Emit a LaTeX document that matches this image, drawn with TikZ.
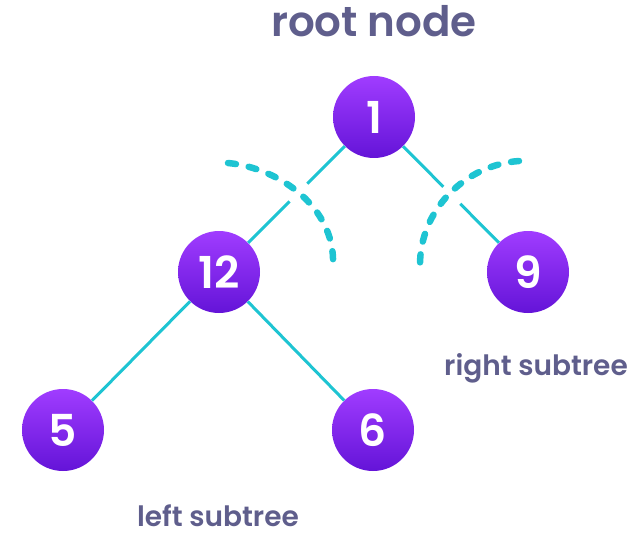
\documentclass[tikz,border=0pt]{standalone}
\usepackage{fontspec}
\setmainfont{Poppins}[BoldFont={* SemiBold}]
\usetikzlibrary{calc}
\definecolor{ptop}{HTML}{A03CFF}
\definecolor{pbot}{HTML}{6414D8}
\definecolor{edgec}{HTML}{1EC4D2}
\definecolor{txtc}{HTML}{5F5E8C}
\tikzset{
  tnode/.style={circle, minimum size=82pt, inner sep=0pt, top color=ptop, bottom color=pbot, draw=none, text=white, font=\fontsize{44pt}{46pt}\selectfont\bfseries},
  edge/.style={draw=edgec, line width=3pt},
  arcd/.style={draw=edgec, line width=6.5pt, line cap=round, dash pattern=on 8pt off 13pt},
  lbl/.style={text=txtc, anchor=base, inner sep=0pt, font=\fontsize{28pt}{32pt}\selectfont\bfseries},
}
\begin{document}
\begin{tikzpicture}[x=1pt,y=-1pt]
\useasboundingbox (0,0) rectangle (633,535);
\node[lbl, font=\fontsize{42pt}{46pt}\selectfont\bfseries] (title) at (374,37) {root node};
\node[tnode] (n1) at (374,117) {1};
\node[tnode] (n12) at (219,272) {12};
\node[tnode] (n9) at (528,272) {9};
\node[tnode] (n5) at (63,430) {5};
\node[tnode] (n6) at (373,430) {6};
\node[lbl] (rs) at (536,375) {right subtree};
\node[lbl, text depth=0pt] (ls) at (218,526) {left subtree};
\coordinate (g1a) at ($(n1.center)!0.43!(n12.center)$);
\coordinate (g1b) at ($(n1.center)!0.545!(n12.center)$);
\coordinate (g2a) at ($(n1.center)!0.45!(n9.center)$);
\coordinate (g2b) at ($(n1.center)!0.56!(n9.center)$);
\draw[edge] (n1) -- (g1a);
\draw[edge] (g1b) -- (n12);
\draw[edge] (n1) -- (g2a);
\draw[edge] (g2b) -- (n9);
\draw[edge] (n12) -- (n5);
\draw[edge] (n12) -- (n6);
\coordinate (la) at (228,163);
\coordinate (lb) at (333,264);
\coordinate (ra) at (519,161);
\coordinate (rb) at (420,265);
\draw[arcd] (la) .. controls (280,168) and (335,208) .. (lb);
\draw[arcd] (ra) .. controls (465,165) and (420,210) .. (rb);
\end{tikzpicture}
\end{document}
